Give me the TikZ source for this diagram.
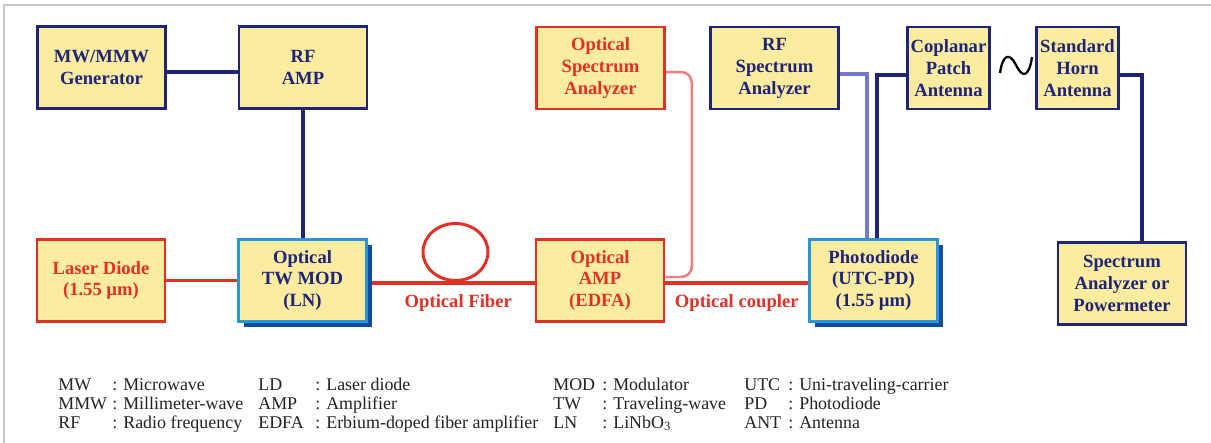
\documentclass[tikz,border=0pt]{standalone}
\usepackage{fontspec}
\setmainfont{Liberation Serif}
\usepackage{xcolor}
\usepackage{tikz}
\usetikzlibrary{positioning,shapes.geometric,shadows,backgrounds}
\definecolor{navy}{RGB}{30,36,120}
\definecolor{optred}{RGB}{226,48,38}
\definecolor{palered}{RGB}{240,125,125}
\definecolor{lavender}{RGB}{120,120,200}
\definecolor{boxfill}{RGB}{252,236,160}
\definecolor{skyblue}{RGB}{40,150,215}
\definecolor{shadowblue}{RGB}{15,75,160}
\definecolor{legendgray}{RGB}{35,35,35}

\begin{document}
\begin{tikzpicture}[
  x=0.02cm, y=-0.02cm,
  every node/.style={font=\fontsize{10.6}{12.5}\selectfont\bfseries, align=center},
  rfbox/.style={rectangle, draw=navy, line width=1.5pt, fill=boxfill, text=navy, minimum width=2.56cm, minimum height=1.64cm, inner sep=1pt},
  optbox/.style={rfbox, draw=optred, text=optred},
  pdbox/.style={rfbox, draw=skyblue, drop shadow={shadow xshift=3pt, shadow yshift=-3pt, fill=shadowblue, opacity=1}},
  antbox/.style={rfbox, minimum width=1.64cm},
  rfline/.style={navy, line width=2.1pt},
  optline/.style={optred, line width=2.1pt},
  osaline/.style={palered, line width=1.4pt},
  rfsaline/.style={lavender, line width=1.8pt},
  fiberloop/.style={ellipse, draw=optred, line width=1.7pt, minimum width=1.3cm, minimum height=1.14cm, inner sep=0pt},
  linelabel/.style={below, text=optred, yshift=-2.5pt},
  legend/.style={font=\fontsize{10.2}{12}\selectfont, text=legendgray, anchor=base west, inner sep=0pt}
]
  \useasboundingbox (0,0) rectangle (1211,443);

  % boxes
  \node[rfbox]  (gen)   at (101.5,67.5) {MW/MMW\\Generator};
  \node[rfbox]  (rfamp) at (303,67.5)   {RF\\AMP};
  \node[optbox] (laser) at (101,280.5)  {Laser Diode\\(1.55 µm)};
  \node[pdbox]  (mod)   at (302.5,280.5){Optical\\TW MOD\\(LN)};
  \node[optbox] (osa)   at (600.5,68)   {Optical\\Spectrum\\Analyzer};
  \node[optbox] (oamp)  at (600,280.5)  {Optical\\AMP\\(EDFA)};
  \node[rfbox]  (rfsa)  at (774.5,68)   {RF\\Spectrum\\Analyzer};
  \node[antbox] (cpa)   at (948.5,68)   {Coplanar\\Patch\\Antenna};
  \node[antbox] (sha)   at (1077.5,68)  {Standard\\Horn\\Antenna};
  \node[pdbox]  (pd)    at (873.5,280.5){Photodiode\\(UTC-PD)\\(1.55 µm)};
  \node[rfbox]  (sa)    at (1122,283.5) {Spectrum\\Analyzer or\\Powermeter};
  \node[fiberloop] (loop) at (455.5,252) {};

  % wireless link
  \draw[line width=1.3pt] (1000,73) .. controls (1003,53) and (1010,53) .. (1016,65)
    .. controls (1022,78) and (1029,78) .. (1032,57);

  \begin{scope}[on background layer]
    \fill[white] (0,0) rectangle (1211,443);
    \draw[gray!45, line width=1.1pt] (4,443) -- (4,5) -- (1211,5);

    % rf side
    \draw[rfline] ([yshift=-2.6pt]gen.east) -- ([yshift=-2.6pt]rfamp.west);
    \draw[rfline] (rfamp.south) -- (rfamp.south |- mod.north);
    \draw[rfline] ([yshift=-4pt]cpa.west) -| ([xshift=2pt]pd.north);
    \draw[rfline] ([yshift=-4pt]sha.east) -| ([xshift=11.4pt]sa.north);
    \draw[rfsaline] ([yshift=-3.4pt]rfsa.east) -| ([xshift=-3.7pt]pd.north);

    % optical side
    \draw[optline] (laser.east) -- (mod.west);
    \draw[optline] ([yshift=-1.4pt]mod.east) -- node[linelabel, xshift=4pt] {Optical Fiber} ([yshift=-1.4pt]oamp.west);
    \draw[optline] ([yshift=-1.4pt]oamp.east) -- node[linelabel] {Optical coupler} ([yshift=-1.4pt]pd.west);
    \draw[osaline] ([yshift=2pt]oamp.east) [rounded corners=6pt] -| ([xshift=14.8pt,yshift=-2.3pt]osa.east)
      [sharp corners] -- ([yshift=-2.3pt]osa.east);
  \end{scope}

  % legend
  \foreach \x/\c/\y/\ab/\txt in {58/112/390/MW/{: Microwave}, 58/112/409/MMW/{: Millimeter-wave}, 58/112/428/RF/{: Radio frequency},
      258/315/390/LD/{: Laser diode}, 258/315/409/AMP/{: Amplifier}, 258/315/428/EDFA/{: Erbium-doped fiber amplifier},
      553/602/390/MOD/{: Modulator}, 553/602/409/TW/{: Traveling-wave}, 553/602/428/LN/{: LiNbO\textsubscript{3}},
      744/788/390/UTC/{: Uni-traveling-carrier}, 744/788/409/PD/{: Photodiode}, 744/788/428/ANT/{: Antenna}}
  {
    \node[legend] (key-\ab) at (\x,\y) {\ab};
    \node[legend] (txt-\ab) at (\c,\y) {\txt};
  }
\end{tikzpicture}
\end{document}
